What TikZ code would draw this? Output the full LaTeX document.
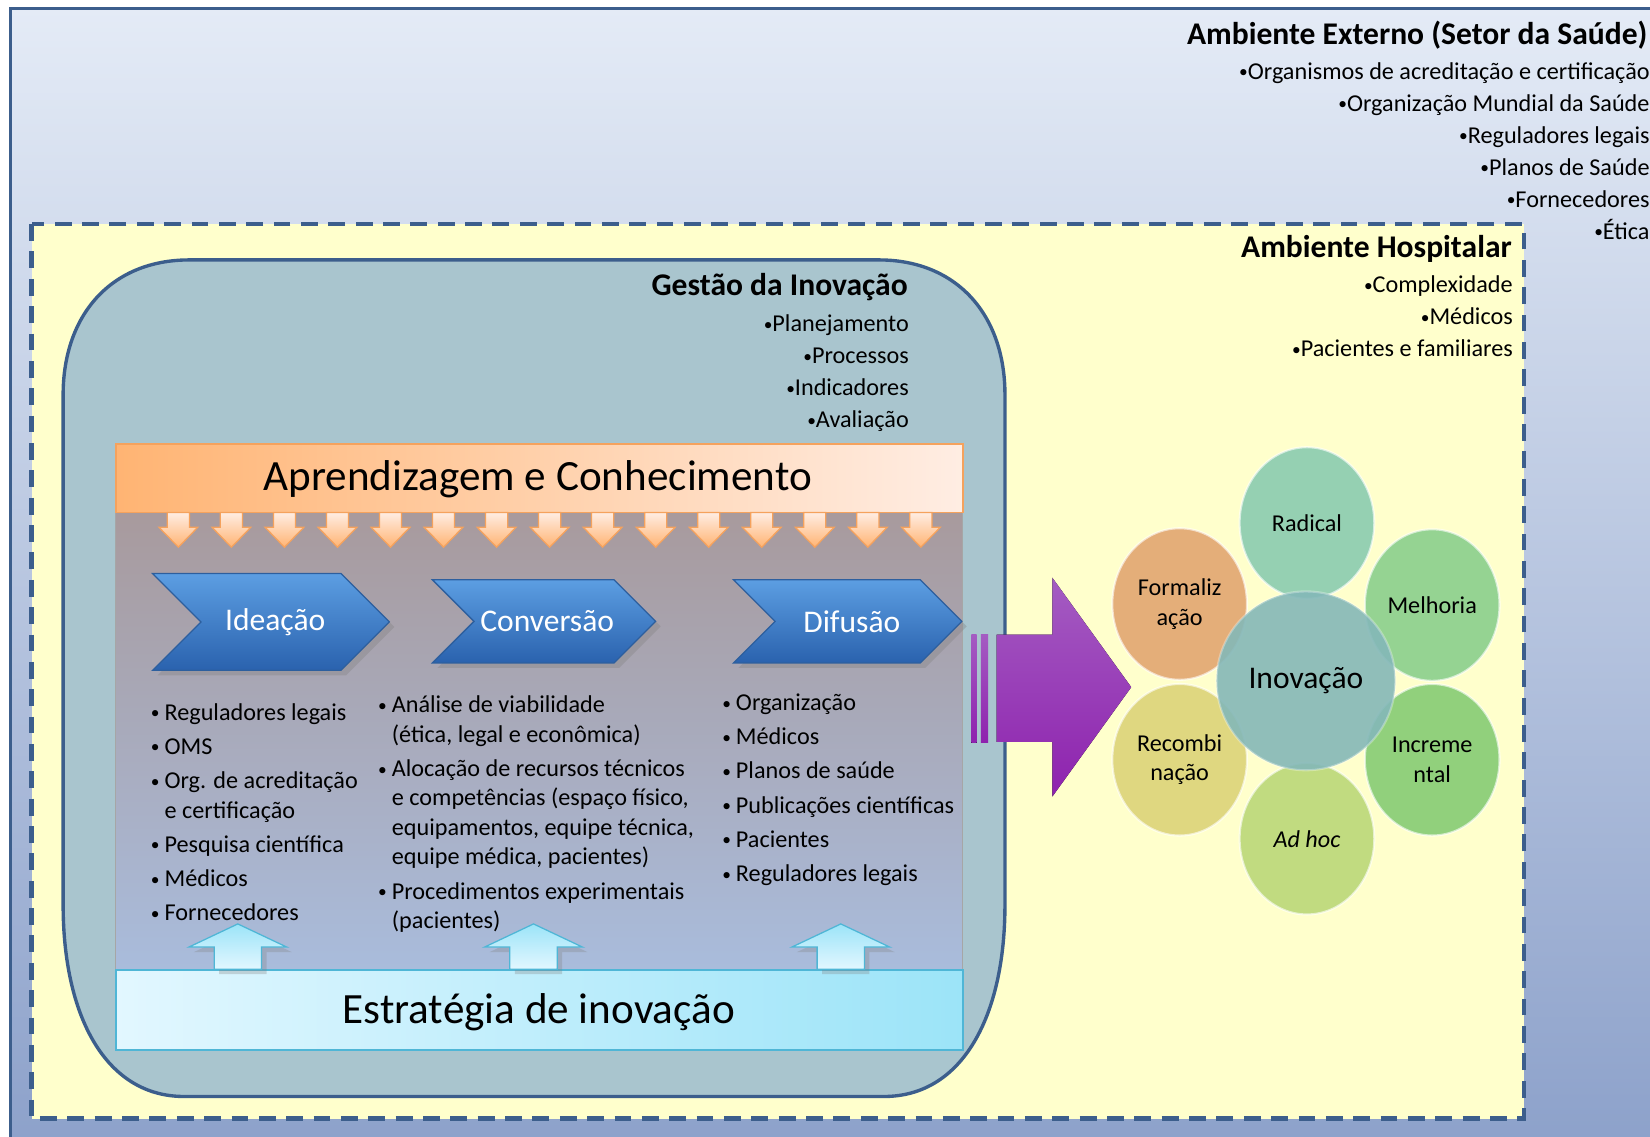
\documentclass[tikz,border=0pt]{standalone}
\usepackage{fontspec}
\usepackage{graphicx}
\setmainfont{Carlito}
\usetikzlibrary{shapes.symbols,shapes.geometric,shadows}
\tikzset{>=stealth}

\definecolor{extTop}{HTML}{E4EBF6}
\definecolor{extBot}{HTML}{8A9FC9}
\definecolor{frameBlue}{HTML}{3C5E8C}
\definecolor{hospFill}{HTML}{FFFFCC}
\definecolor{gestFill}{HTML}{A9C5CE}
\definecolor{learnL}{HTML}{FFB473}
\definecolor{learnR}{HTML}{FFEDE3}
\definecolor{learnLine}{HTML}{F5A25D}
\definecolor{panelTop}{HTML}{A89A9D}
\definecolor{panelBot}{HTML}{A9BCDC}
\definecolor{stratL}{HTML}{E2F7FF}
\definecolor{stratR}{HTML}{9CE4F8}
\definecolor{stratLine}{HTML}{4FB6D6}
\definecolor{chevTop}{HTML}{5C9EE2}
\definecolor{chevBot}{HTML}{2A62AE}
\definecolor{chevLine}{HTML}{2D5F9E}
\definecolor{purpTop}{HTML}{A45CC2}
\definecolor{purpBot}{HTML}{8E22AE}
\definecolor{cRadical}{HTML}{8CCDB0}
\definecolor{cMelhoria}{HTML}{8DD08E}
\definecolor{cIncrem}{HTML}{88CC76}
\definecolor{cAdhoc}{HTML}{BCD97A}
\definecolor{cRecomb}{HTML}{DDD47A}
\definecolor{cFormal}{HTML}{E2A872}
\definecolor{cInov}{HTML}{84B8B8}

\newcommand{\smalldot}{\raisebox{0.12ex}{\scalebox{0.72}{•}}}
\newcommand{\itemdot}{\makebox[6.5pt][l]{\smalldot}}
\newcommand{\itemgap}{\hspace*{6.5pt}}

\tikzset{
  small/.style={font=\fontsize{11.5}{15.2}\selectfont, inner sep=0pt},
  heading/.style={font=\bfseries\fontsize{15}{18}\selectfont, inner sep=0pt},
  bandtext/.style={font=\fontsize{20.5}{24}\selectfont, inner sep=0pt},
  listcol/.style={font=\fontsize{11.5}{14}\selectfont, align=left, inner sep=0pt, anchor=north west},
  chevron/.style={signal, signal to=east, signal from=west, signal pointer angle=90,
    inner xsep=0pt, draw=chevLine, line width=0.6pt, top color=chevTop, bottom color=chevBot,
    text=white, font=\fontsize{15}{18}\selectfont, drop shadow={opacity=0.35}},
  downarr/.style={draw=learnLine, line width=0.6pt, top color=learnR, bottom color=learnL},
  uparr/.style={draw=stratLine, line width=0.6pt, top color=stratR, bottom color=stratL,
    drop shadow={opacity=0.3}},
  petal/.style={ellipse, minimum width=64pt, minimum height=72pt, inner sep=0pt,
    fill opacity=0.92, text opacity=1, draw=white, draw opacity=0.6, line width=1pt,
    align=center, font=\fontsize{11.5}{14}\selectfont}
}

\begin{document}
\begin{tikzpicture}[x=0.5pt,y=-0.5pt]
    \useasboundingbox (0,0) rectangle (1568,1080);
    \clip (0,0) rectangle (1568,1080);
    % external environment
    \draw[line width=1.75pt,frameBlue,top color=extTop,middle color=extTop!85!extBot,bottom color=extBot] (10,8) rectangle (1620,1120);
    \node[heading,anchor=east] (externo) at (1566,33) {Ambiente Externo (Setor da Saúde)};
    \node[small,align=right,anchor=north east] (externoItens) at (1568,59) {\smalldot Organismos de acreditação e certificação\\\smalldot Organização Mundial da Saúde\\\smalldot Reguladores legais\\\smalldot Planos de Saúde\\\smalldot Fornecedores\\\smalldot Ética};
    % hospital
    \draw[line width=2pt,frameBlue,dash pattern=on 8pt off 5pt,fill=hospFill] (30,213) rectangle (1448,1063);
    \node[heading,anchor=east] (hospital) at (1437,237) {Ambiente Hospitalar};
    \node[small,align=right,anchor=north east] (hospitalItens) at (1438,262) {\smalldot Complexidade\\\smalldot Médicos\\\smalldot Pacientes e familiares};
    % innovation management
    \draw[line width=1.6pt,frameBlue,fill=gestFill] (60,375) .. controls (60,300) and (105,247) .. (180,247) -- (835,247) .. controls (910,247) and (955,300) .. (955,375) -- (955,860) .. controls (955,965) and (915,1042) .. (840,1042) -- (175,1042) .. controls (100,1042) and (60,965) .. (60,860) -- cycle;
    \node[heading,anchor=east] (gestao) at (863,273) {Gestão da Inovação};
    \node[small,align=right,anchor=north east] (gestaoItens) at (864,299) {\smalldot Planejamento\\\smalldot Processos\\\smalldot Indicadores\\\smalldot Avaliação};
    % inner panel
    \fill[top color=panelTop,bottom color=panelBot,draw=gray!70,line width=0.4pt] (110,487) rectangle (915,922);
    \draw[learnLine,line width=0.8pt,left color=learnL,right color=learnR] (110,422) rectangle (915,487);
    \node[bandtext] (aprendizagem) at (511,455) {Aprendizagem e Conhecimento};
    \draw[stratLine,line width=0.8pt,left color=stratL,right color=stratR] (110,922) rectangle (915,998);
    \node[bandtext] (estrategia) at (512,962) {Estratégia de inovação};
    \foreach \i in {0,...,14}
      \draw[downarr] ({169.5+50.4*\i-10.5},487) -- ({169.5+50.4*\i-10.5},501) -- ({169.5+50.4*\i-18.5},501) -- ({169.5+50.4*\i},520) -- ({169.5+50.4*\i+18.5},501) -- ({169.5+50.4*\i+10.5},501) -- ({169.5+50.4*\i+10.5},487) -- cycle;
    \foreach \x in {226,507,799}
      \draw[uparr] (\x-22.5,921) -- (\x-22.5,900) -- (\x-46.5,900) -- (\x,878) -- (\x+46.5,900) -- (\x+22.5,900) -- (\x+22.5,921) -- cycle;
    % phases
    \node[chevron,minimum width=112.5pt,minimum height=46pt] (ideacao) at (257.5,591) {\hspace*{4pt}Ideação};
    \node[chevron,minimum width=103pt,minimum height=39.5pt] (conversao) at (517,590.5) {\hspace*{3pt}Conversão};
    \node[chevron,minimum width=108.5pt,minimum height=39.5pt] (difusao) at (805.5,590.5) {\hspace*{4pt}Difusão};
    \node[listcol] (ideacaoItens) at (143,668) {\itemdot Reguladores legais\\[2.25pt]\itemdot OMS\\[2.25pt]\itemdot Org. de acreditação\\\itemgap e certificação\\[2.25pt]\itemdot Pesquisa científica\\[2.25pt]\itemdot Médicos\\[2.25pt]\itemdot Fornecedores};
    \node[listcol] (conversaoItens) at (359,661) {\itemdot Análise de viabilidade\\\itemgap (ética, legal e econômica)\\[2.25pt]\itemdot Alocação de recursos técnicos\\\itemgap e competências (espaço físico,\\\itemgap equipamentos, equipe técnica,\\\itemgap equipe médica, pacientes)\\[2.25pt]\itemdot Procedimentos experimentais\\\itemgap (pacientes)};
    \node[listcol] (difusaoItens) at (686,659) {\itemdot Organização\\[2.25pt]\itemdot Médicos\\[2.25pt]\itemdot Planos de saúde\\[2.25pt]\itemdot Publicações científicas\\[2.25pt]\itemdot Pacientes\\[2.25pt]\itemdot Reguladores legais};
    % output arrow
    \fill[top color=purpTop,bottom color=purpBot] (923,603) rectangle (928,706);
    \fill[top color=purpTop,bottom color=purpBot] (932,603) rectangle (939,706);
    \fill[top color=purpTop,bottom color=purpBot] (947,603) -- (1000,603) -- (1000,549) -- (1075,653) -- (1000,757) -- (1000,705) -- (947,705) -- cycle;
    % innovation types
    \node[petal,fill=cRadical] (radical) at (1242,497) {Radical};
    \node[petal,fill=cMelhoria] (melhoria) at (1361,575) {Melhoria};
    \node[petal,fill=cIncrem] (incremental) at (1361,722) {Increme\\ntal};
    \node[petal,fill=cAdhoc] (adhoc) at (1242,797) {\itshape Ad hoc};
    \node[petal,fill=cRecomb] (recombinacao) at (1121,722) {Recombi\\nação};
    \node[petal,fill=cFormal] (formalizacao) at (1121,574) {Formaliz\\ação};
    \node[circle,minimum size=85pt,fill=cInov,fill opacity=0.9,text opacity=1,draw=white,draw opacity=0.3,line width=1pt,font=\fontsize{15}{18}\selectfont] (inovacao) at (1241,647) {Inovação};
\end{tikzpicture}
\end{document}
